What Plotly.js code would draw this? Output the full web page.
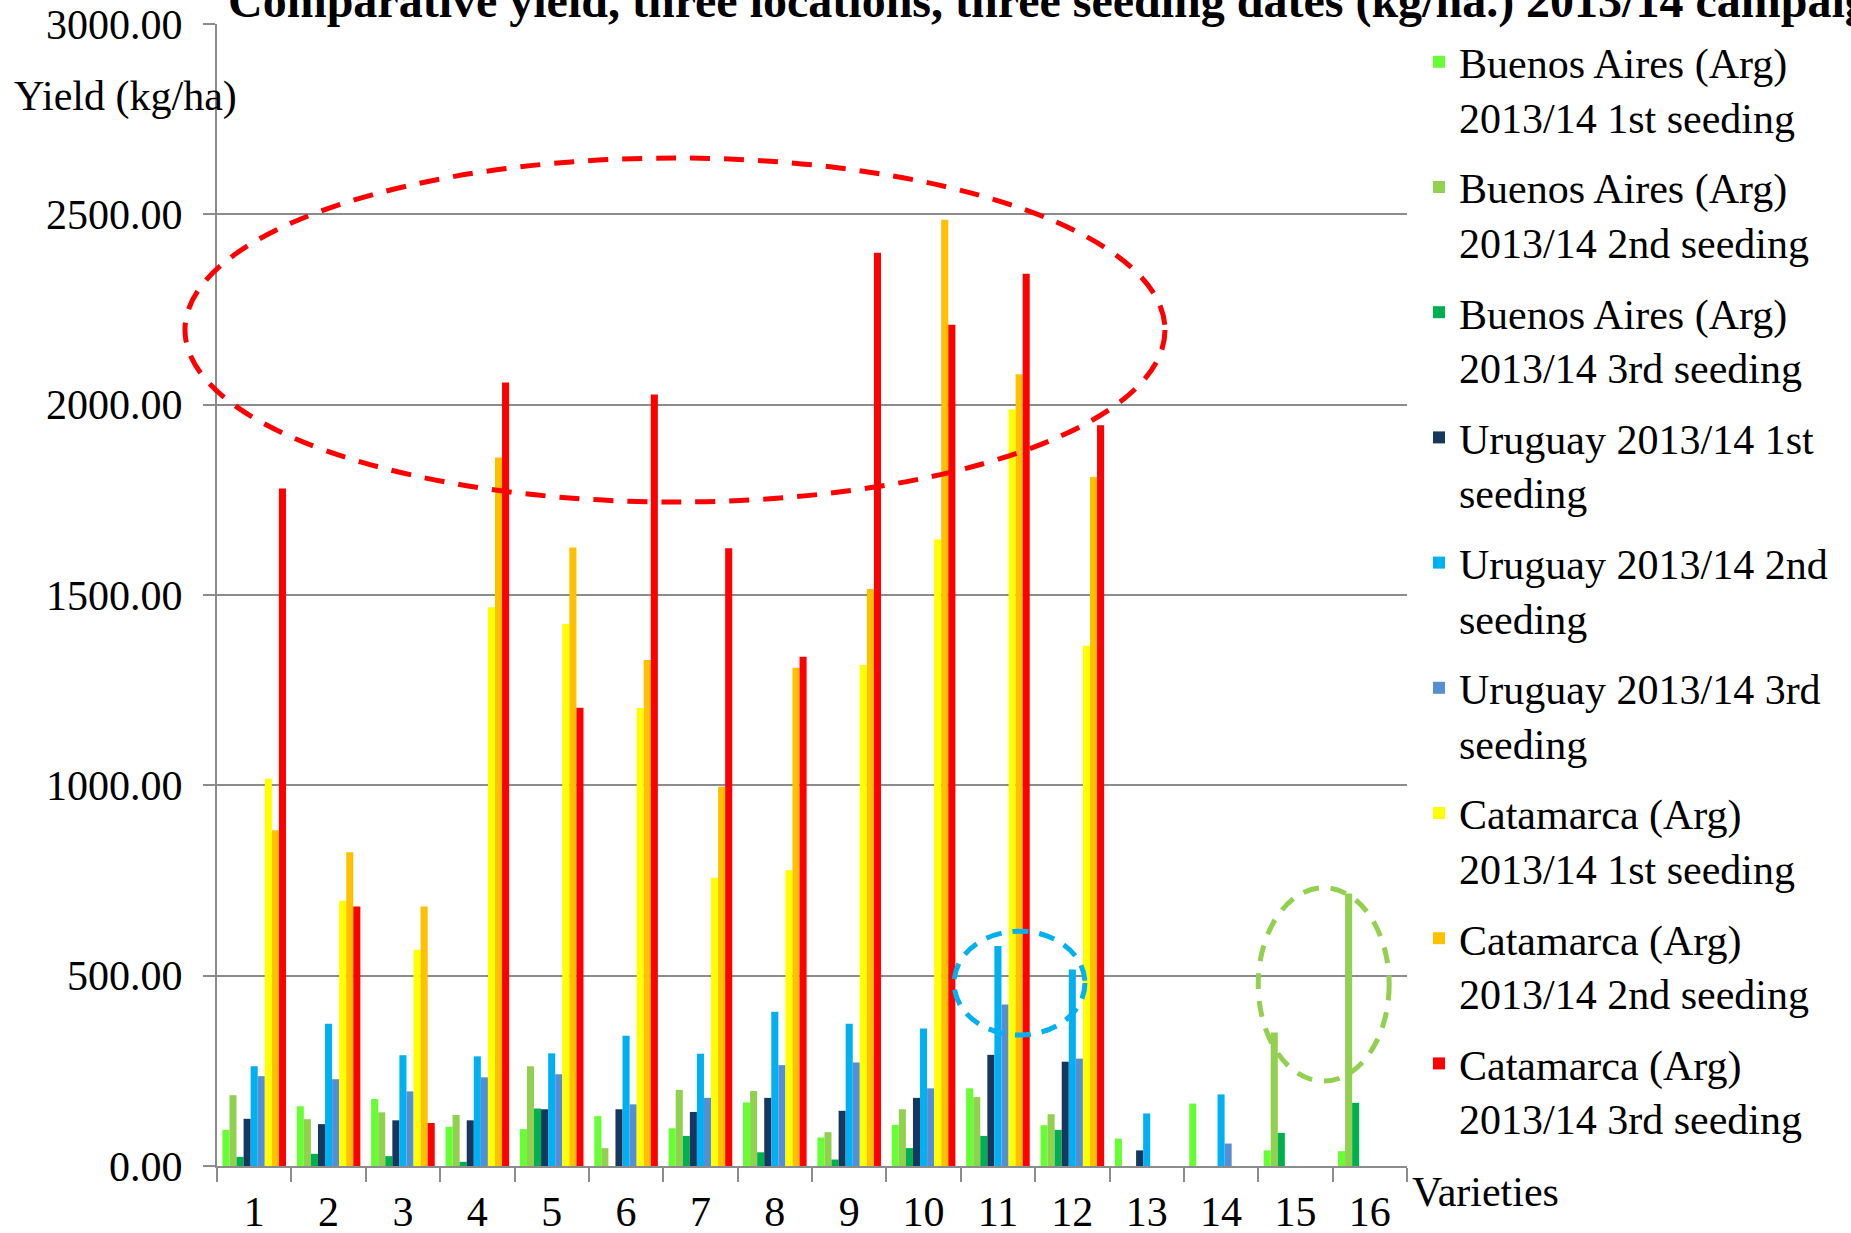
<!DOCTYPE html>
<html>
<head>
<meta charset="utf-8">
<script src="https://cdn.plot.ly/plotly-3.0.1.min.js"></script>
<style>html,body{margin:0;padding:0;background:#fff;}#chart{width:1851px;height:1233px;}</style>
</head>
<body>
<div id="chart"></div>
<script>
const varieties = ['1','2','3','4','5','6','7','8','9','10','11','12','13','14','15','16'];

const seriesNames = [
  'Buenos Aires (Arg)<br>2013/14 1st seeding',
  'Buenos Aires (Arg)<br>2013/14 2nd seeding',
  'Buenos Aires (Arg)<br>2013/14 3rd seeding',
  'Uruguay 2013/14 1st<br>seeding',
  'Uruguay 2013/14 2nd<br>seeding',
  'Uruguay 2013/14 3rd<br>seeding',
  'Catamarca (Arg)<br>2013/14 1st seeding',
  'Catamarca (Arg)<br>2013/14 2nd seeding',
  'Catamarca (Arg)<br>2013/14 3rd seeding'
];

const baires1 = [95, 157, 176, 103, 97, 131, 99, 167, 75, 108, 204, 107, 72, 164, 41, 39];
const baires2 = [186, 123, 141, 134, 262, 47, 200, 197, 89, 149, 181, 136, 0, 0, 351, 716];
const baires3 = [24, 32, 26, 11, 151, 0, 79, 36, 17, 47, 79, 95, 0, 0, 87, 166];
const uru1 = [124, 110, 120, 120, 149, 149, 142, 179, 145, 179, 292, 274, 41, 0, 0, 0];
const uru2 = [262, 374, 291, 288, 296, 342, 295, 405, 374, 361, 578, 516, 138, 188, 0, 0];
const uru3 = [236, 228, 196, 233, 241, 162, 179, 265, 272, 204, 424, 282, 0, 59, 0, 0];
const cata1 = [1017, 697, 568, 1468, 1424, 1203, 757, 777, 1316, 1646, 1987, 1367, 0, 0, 0, 0];
const cata2 = [882, 824, 682, 1861, 1625, 1329, 996, 1309, 1516, 2486, 2080, 1810, 0, 0, 0, 0];
const cata3 = [1780, 682, 113, 2058, 1204, 2027, 1623, 1338, 2399, 2210, 2344, 1946, 0, 0, 0, 0];

const seriesValues = [baires1, baires2, baires3, uru1, uru2, uru3, cata1, cata2, cata3];
const seriesColors = ['#66FF33', '#92D050', '#00B050', '#17375E', '#00B0F0', '#558ED5', '#FFFF00', '#FFC000', '#FF0000'];

const FONT = 'Liberation Serif';

const traces = seriesValues.map((vals, i) => ({
  type: 'bar',
  name: seriesNames[i],
  legendgroup: 'g' + i,
  x: varieties,
  y: vals,
  marker: {color: seriesColors[i], line: {width: 0}},
  hoverinfo: 'x+y+name'
}));

const layout = {
  width: 1851,
  height: 1233,
  paper_bgcolor: '#ffffff',
  plot_bgcolor: '#ffffff',
  font: {family: FONT, size: 42, color: '#000000'},
  margin: {l: 217, r: 444, t: 24, b: 67, pad: 0},
  barmode: 'group',
  bargap: 0.145,
  bargroupgap: 0,
  title: {
    text: '<b>Comparative yield, three locations, three seeding dates (kg/ha.) 2013/14 campaign</b>',
    font: {family: FONT, size: 48, color: '#000000'},
    xref: 'container', yref: 'container',
    x: 228 / 1851, xanchor: 'left',
    y: 1, yanchor: 'middle'
  },
  xaxis: {
    type: 'category',
    range: [-0.5, 15.5],
    autorange: false,
    tickson: 'boundaries',
    ticks: 'outside',
    ticklen: 14,
    tickwidth: 2,
    tickcolor: '#8c8c8c',
    showline: true,
    linecolor: '#8c8c8c',
    linewidth: 2,
    showgrid: false,
    tickfont: {family: FONT, size: 42, color: '#000000'},
    ticklabelstandoff: 8,
    fixedrange: true
  },
  yaxis: {
    range: [0, 3000],
    autorange: false,
    dtick: 500,
    tick0: 0,
    tickformat: '.2f',
    ticks: 'outside',
    ticklen: 12,
    tickwidth: 2,
    tickcolor: '#8c8c8c',
    showline: true,
    linecolor: '#8c8c8c',
    linewidth: 2,
    showgrid: true,
    gridcolor: '#8c8c8c',
    gridwidth: 2,
    zeroline: false,
    tickfont: {family: FONT, size: 42, color: '#000000'},
    ticklabelstandoff: 12,
    fixedrange: true
  },
  legend: {
    xref: 'container', yref: 'container',
    x: 1419 / 1851, xanchor: 'left',
    y: 1 - 28 / 1233, yanchor: 'top',
    valign: 'top',
    maxheight: 1233,
    font: {family: FONT, size: 42, color: '#000000'},
    bgcolor: 'rgba(255,255,255,0)',
    borderwidth: 0,
    tracegroupgap: 13,
    traceorder: 'grouped'
  },
  showlegend: true,
  annotations: [
    {
      text: 'Yield (kg/ha)',
      xref: 'paper', yref: 'paper',
      x: (12 - 217) / 1190, xanchor: 'left',
      y: (1166 - 97) / 1142, yanchor: 'middle',
      showarrow: false,
      font: {family: FONT, size: 42, color: '#000000'}
    },
    {
      text: 'Varieties',
      xref: 'paper', yref: 'paper',
      x: (1410 - 217) / 1190, xanchor: 'left',
      y: (1166 - 1192) / 1142, yanchor: 'middle',
      showarrow: false,
      font: {family: FONT, size: 42, color: '#000000'}
    }
  ],
  shapes: [
    {
      type: 'circle', xref: 'paper', yref: 'paper',
      x0: (185 - 217) / 1190, x1: (1165 - 217) / 1190,
      y0: (1166 - 502) / 1142, y1: (1166 - 158) / 1142,
      line: {color: '#FF0000', width: 5, dash: '20px,14px'},
      fillcolor: 'rgba(0,0,0,0)'
    },
    {
      type: 'circle', xref: 'x', yref: 'y',
      x0: 9.41, x1: 11.17, y0: 344, y1: 617,
      line: {color: '#00B0F0', width: 5, dash: '16px,11px'},
      fillcolor: 'rgba(0,0,0,0)'
    },
    {
      type: 'circle', xref: 'x', yref: 'y',
      x0: 13.5, x1: 15.26, y0: 223, y1: 731,
      line: {color: '#92D050', width: 5, dash: '16px,12px'},
      fillcolor: 'rgba(0,0,0,0)'
    }
  ]
};

Plotly.newPlot('chart', traces, layout, {staticPlot: true, displayModeBar: false});
</script>
</body>
</html>
